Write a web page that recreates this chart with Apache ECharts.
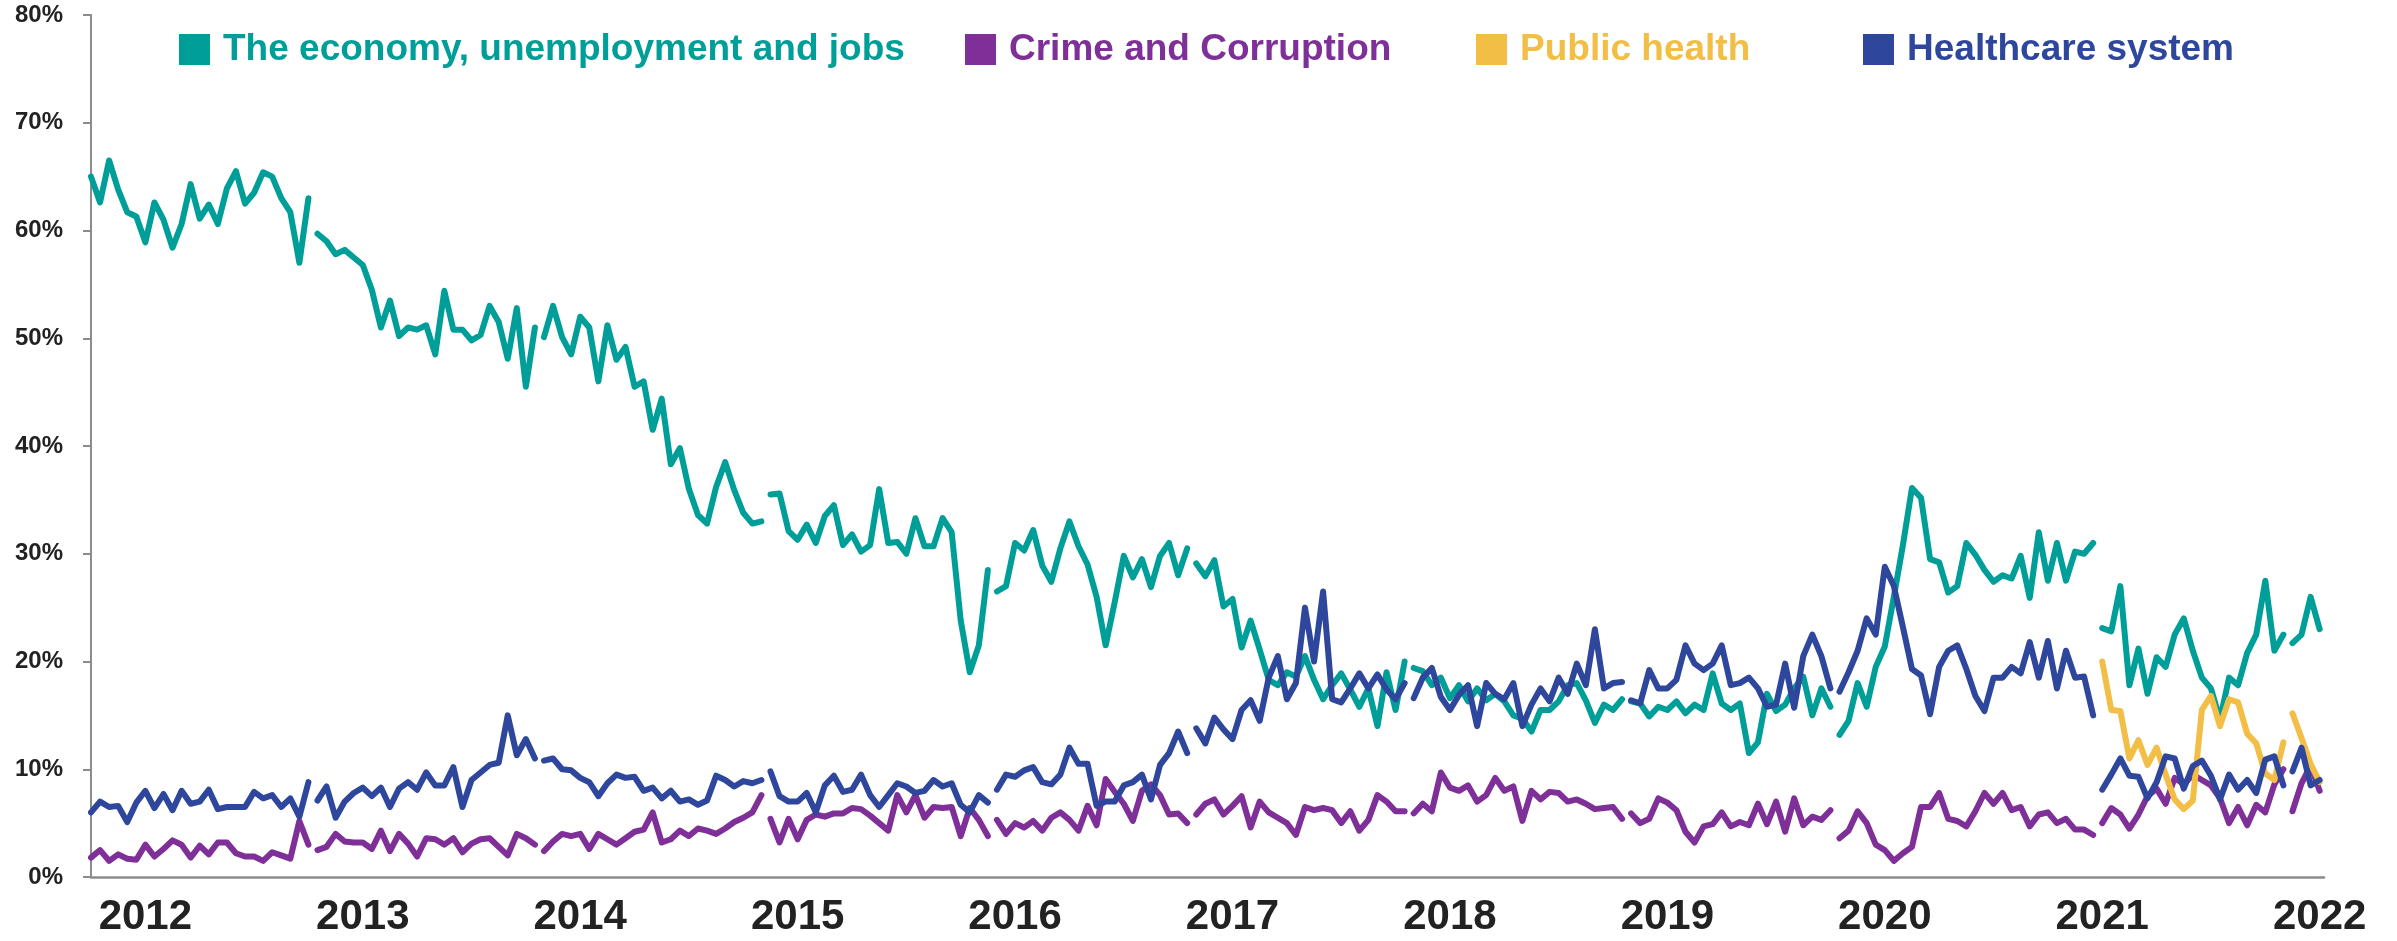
<!DOCTYPE html>
<html>
<head>
<meta charset="utf-8">
<script src="https://cdn.jsdelivr.net/npm/echarts@6/dist/echarts.min.js"></script>
<style>
html,body{margin:0;padding:0;background:#fff;}
#chart{width:2397px;height:941px;}
</style>
</head>
<body>
<div id="chart"></div>
<script>
// Half-monthly observations (24 per year) starting at 2011.75.
// A null marks a missing survey wave (line break) and does not take a slot of its own.
const startYear = 2011.75;
const perYear = 24;
const yearTicks = [2012, 2013, 2014, 2015, 2016, 2017, 2018, 2019, 2020, 2021, 2022];
const seriesNames = ['The economy, unemployment and jobs', 'Crime and Corruption', 'Public health', 'Healthcare system'];

const economy = [
65.0,62.6,66.5,63.8,61.7,61.3,58.9,62.6,61.0,58.4,60.6,64.3,
61.1,62.4,60.6,63.9,65.5,62.5,63.5,65.4,65.0,63.0,61.7,57.0,
63.0,null,59.7,59.0,57.8,58.2,57.5,56.8,54.5,51.0,53.5,50.2,51.0,
50.8,51.2,48.5,54.4,50.8,50.8,49.8,50.3,53.0,51.5,48.1,52.8,
45.5,51.0,null,50.1,53.0,50.1,48.5,52.0,51.0,46.0,51.2,48.0,49.2,
45.5,46.0,41.5,44.4,38.3,39.8,36.0,33.6,32.8,36.2,38.5,35.9,
33.8,32.8,33.0,null,35.5,35.6,32.1,31.3,32.7,31.0,33.5,34.5,30.8,
31.8,30.2,30.8,36.0,31.0,31.1,30.0,33.3,30.7,30.7,33.3,32.0,
23.8,19.0,21.5,28.5,null,26.5,27.0,31.0,30.3,32.2,28.9,27.4,30.5,
33.0,30.7,29.0,26.0,21.5,25.5,29.8,27.8,29.5,26.9,29.8,31.0,
28.0,30.5,null,29.1,27.9,29.4,25.1,25.8,21.3,23.8,21.1,18.3,17.8,
19.0,18.6,20.5,18.3,16.5,17.8,18.9,17.4,15.8,17.5,14.0,19.0,
15.5,20.0,null,19.4,19.1,17.8,18.5,16.6,17.8,16.3,17.5,16.4,17.0,
16.3,15.0,14.7,13.5,15.5,15.5,16.3,17.8,18.0,16.4,14.3,16.0,
15.5,16.5,null,16.3,16.1,14.9,15.8,15.5,16.3,15.2,16.0,15.5,18.9,
16.1,15.5,16.1,11.5,12.5,17.0,15.4,16.0,17.5,18.6,15.0,17.5,
15.8,null,13.2,14.5,18.0,15.8,19.5,21.4,26.0,30.8,36.1,35.2,29.5,
29.2,26.4,27.0,31.0,29.9,28.5,27.4,28.0,27.7,29.8,25.9,32.0,
27.5,31.0,27.5,30.2,30.0,31.0,null,23.1,22.8,27.0,17.8,21.2,17.0,
20.4,19.5,22.5,24.0,21.0,18.5,17.5,14.6,18.5,17.8,20.8,22.5,
27.5,21.0,22.5,null,21.7,22.5,26.0,23.0
];

const crime = [
1.8,2.5,1.5,2.1,1.7,1.6,3.0,1.9,2.6,3.4,3.0,1.8,
2.9,2.1,3.2,3.2,2.2,1.9,1.9,1.5,2.3,2.0,1.7,5.2,
3.0,null,2.5,2.8,4.0,3.3,3.2,3.2,2.6,4.3,2.4,4.0,3.1,
1.9,3.6,3.5,3.0,3.6,2.3,3.1,3.5,3.6,2.8,2.0,4.0,
3.6,3.0,null,2.4,3.3,4.0,3.8,4.0,2.6,4.0,3.5,3.0,3.6,
4.2,4.4,6.0,3.2,3.5,4.3,3.8,4.5,4.3,4.0,4.5,5.1,
5.5,6.0,7.6,null,5.4,3.2,5.4,3.5,5.3,5.8,5.6,5.9,5.9,
6.4,6.3,5.7,5.0,4.3,7.6,6.0,7.6,5.5,6.5,6.4,6.5,
3.8,6.4,5.3,3.8,null,5.3,4.0,5.0,4.6,5.2,4.3,5.5,6.0,
5.3,4.3,6.6,4.8,9.1,7.9,6.8,5.2,8.0,8.6,7.6,5.8,
5.9,5.0,null,5.8,6.8,7.2,5.8,6.6,7.5,4.6,7.0,6.0,5.5,
5.0,3.9,6.5,6.2,6.4,6.2,5.0,6.1,4.3,5.3,7.6,7.0,
6.1,6.1,null,5.9,6.8,6.1,9.7,8.3,8.0,8.5,7.0,7.6,9.2,
8.0,8.4,5.2,8.0,7.2,7.9,7.8,7.0,7.2,6.8,6.3,6.4,
6.5,5.4,null,5.9,5.0,5.4,7.3,6.9,6.2,4.2,3.2,4.7,4.9,
6.0,4.7,5.1,4.8,6.8,4.9,7.0,4.2,7.3,4.8,5.6,5.3,
6.2,null,3.6,4.3,6.1,5.0,3.0,2.5,1.5,2.2,2.8,6.5,6.5,
7.8,5.4,5.2,4.7,6.1,7.8,6.8,7.8,6.2,6.5,4.7,5.8,
6.0,5.0,5.4,4.4,4.4,3.9,null,5.0,6.4,5.8,4.5,5.8,7.5,
8.2,6.8,9.2,8.6,9.5,9.0,8.5,7.3,5.0,6.5,4.8,6.7,
6.0,8.6,10.0,null,6.1,8.7,10.3,8.0
];

// Public health is only asked from early 2021 on (slot 222 onward)
const publicHealthStart = 222;
const publicHealth = [
20.0,15.5,15.4,11.0,12.7,10.4,12.0,9.5,7.2,6.3,7.1,15.5,
16.8,14.0,16.5,16.2,13.3,12.4,9.6,9.0,12.5,null,15.2,12.9,10.5,8.8
];

const healthcare = [
6.0,7.0,6.5,6.6,5.1,6.9,8.0,6.4,7.7,6.2,8.0,6.8,
7.0,8.1,6.3,6.5,6.5,6.5,7.9,7.3,7.6,6.5,7.3,5.6,
8.8,null,7.1,8.4,5.5,7.0,7.8,8.3,7.5,8.3,6.5,8.2,8.8,
8.1,9.7,8.5,8.5,10.2,6.5,9.0,9.7,10.4,10.6,15.0,11.3,
12.8,11.0,null,10.8,11.0,10.0,9.9,9.2,8.8,7.5,8.7,9.5,9.2,
9.3,8.0,8.3,7.3,8.0,7.0,7.2,6.7,7.1,9.4,9.0,8.4,
8.9,8.7,9.0,null,9.8,7.5,7.0,7.0,7.8,6.0,8.5,9.4,7.9,
8.1,9.5,7.6,6.5,7.6,8.7,8.4,7.8,8.0,9.0,8.4,8.7,
6.7,6.0,7.6,6.9,null,8.1,9.5,9.3,9.9,10.2,8.8,8.6,9.5,
12.0,10.5,10.5,6.6,7.0,7.0,8.5,8.8,9.5,7.2,10.4,11.5,
13.5,11.5,null,13.8,12.4,14.8,13.7,12.8,15.5,16.4,14.5,18.5,20.5,
16.5,18.0,25.0,20.0,26.5,16.5,16.2,17.5,18.9,17.5,18.8,17.4,
16.5,18.0,null,16.6,18.5,19.4,16.7,15.5,16.9,17.8,14.0,18.0,17.0,
16.5,18.0,14.0,16.0,17.5,16.3,18.5,17.0,19.8,17.8,23.0,17.5,
18.0,18.1,null,16.4,16.1,19.2,17.5,17.5,18.3,21.5,19.8,19.2,19.8,
21.5,17.8,18.0,18.5,17.5,15.8,16.0,19.8,15.7,20.5,22.5,20.5,
17.5,null,17.2,19.0,21.0,24.0,22.5,28.8,27.0,23.2,19.3,18.7,15.1,
19.5,21.0,21.5,19.3,16.8,15.4,18.5,18.5,19.5,18.9,21.8,18.5,
21.9,17.5,21.0,18.5,18.6,15.0,null,8.1,9.5,11.0,9.4,9.3,7.3,
8.8,11.2,11.0,8.2,10.3,10.8,9.4,7.2,9.5,8.1,9.0,7.8,
10.9,11.2,8.5,null,9.8,12.0,8.5,9.0
];

const colors = ['#009E99', '#7F3098', '#F2BE45', '#2E479C'];

function toPoints(values, offset) {
  const pts = [];
  let slot = offset;
  values.forEach(function (v) {
    if (v === null) {
      pts.push([startYear + (slot - 0.5) / perYear, '-']);
    } else {
      pts.push([startYear + slot / perYear, v]);
      slot += 1;
    }
  });
  return pts;
}

const seriesData = [
  toPoints(economy, 0),
  toPoints(crime, 0),
  toPoints(publicHealth, publicHealthStart),
  toPoints(healthcare, 0)
];

const chart = echarts.init(document.getElementById('chart'), null, { renderer: 'canvas' });

const legendLefts = [179, 965, 1476, 1863];
const fontFam = '"Liberation Sans", Arial, sans-serif';

chart.setOption({
  animation: false,
  backgroundColor: '#ffffff',
  grid: { left: 91, right: 73, top: 15, bottom: 64, containLabel: false },
  legend: seriesNames.map(function (name, k) {
    return {
      data: [name],
      left: legendLefts[k],
      top: 31,
      padding: 0,
      icon: 'rect',
      itemWidth: 31,
      itemHeight: 31,
      selectedMode: false,
      textStyle: {
        color: colors[k],
        fontSize: 37,
        fontWeight: 'bold',
        fontFamily: fontFam,
        padding: [0, 0, 0, 8]
      }
    };
  }),
  xAxis: {
    type: 'value',
    min: 2011.75,
    max: 2022.02,
    splitLine: { show: false },
    axisLine: { show: true, onZero: false, lineStyle: { color: '#8C8C8C', width: 2.5 } },
    axisTick: { show: false },
    axisLabel: {
      customValues: yearTicks,
      formatter: function (v) { return String(Math.round(v)); },
      fontSize: 42,
      fontWeight: 'bold',
      fontFamily: fontFam,
      color: '#222222',
      margin: 19,
      showMinLabel: true,
      showMaxLabel: true
    }
  },
  yAxis: {
    type: 'value',
    min: 0,
    max: 80,
    interval: 10,
    splitLine: { show: false },
    axisLine: { show: true, lineStyle: { color: '#8C8C8C', width: 2 } },
    axisTick: { show: true, length: 8, lineStyle: { color: '#8C8C8C', width: 2 } },
    axisLabel: {
      formatter: '{value}%',
      fontSize: 24,
      fontWeight: 'bold',
      fontFamily: fontFam,
      color: '#222222',
      margin: 28
    }
  },
  series: seriesNames.map(function (name, k) {
    return {
      name: name,
      type: 'line',
      data: seriesData[k],
      showSymbol: false,
      symbol: 'none',
      connectNulls: false,
      color: colors[k],
      itemStyle: { color: colors[k] },
      lineStyle: { color: colors[k], width: 6, join: 'round', cap: 'round' },
      emphasis: { disabled: true },
      z: 2 + k
    };
  })
});
</script>
</body>
</html>
